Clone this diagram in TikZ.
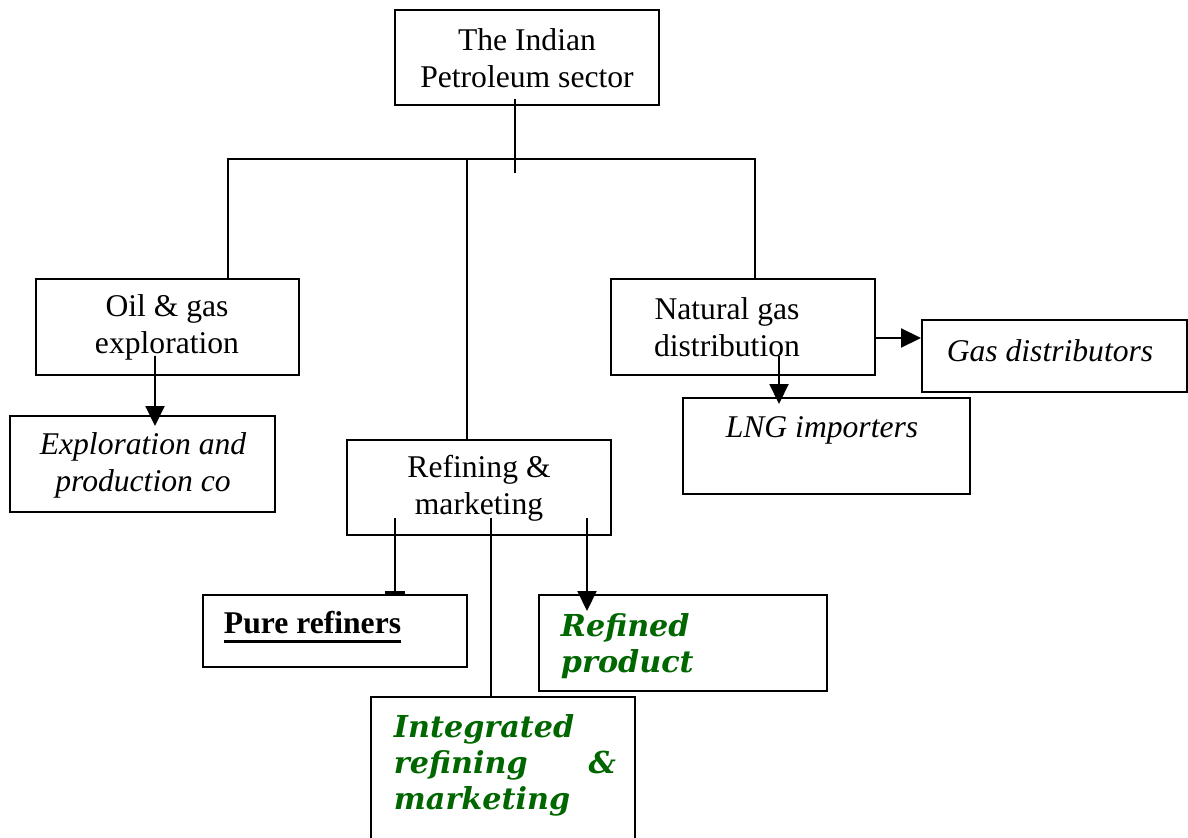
\documentclass[tikz,border=0pt]{standalone}
\usepackage{fontspec}
\setmainfont{Liberation Serif}
\newfontfamily\bookfont{DejaVu Serif}
\usetikzlibrary{arrows.meta,calc}
\definecolor{dkgreen}{RGB}{0,102,0}
\newcommand\thickul[1]{\leavevmode\setbox0\hbox{#1}\rlap{\copy0}\rule[-5pt]{\wd0}{1.6pt}}
\begin{document}
\begin{tikzpicture}[x=0.02cm,y=-0.02cm,
  line width=1.1pt,
  bx/.style 2 args={draw, line width=1.1pt, rectangle, inner sep=0pt,
     minimum width=#1*0.02cm, minimum height=#2*0.02cm},
  txt/.style={inner sep=0pt, align=center, font=\fontsize{18}{21}\selectfont},
  itxt/.style={txt, font=\fontsize{18}{21}\selectfont\itshape},
  gtxt/.style={inner sep=0pt, text=dkgreen,
     font=\fontsize{17.2}{20.5}\selectfont\bookfont\bfseries\itshape},
  arr/.style={-{Triangle[width=0.38cm,length=0.4cm]}},
  barend/.style={-{Rectangle[width=0.4cm,length=0.07cm]}}
]
\useasboundingbox (0,0) rectangle (1188,838);
\clip (0,0) rectangle (1188,838);

% boxes
\node[bx={264}{95}] (top) at (527,57.5) {};
\node[bx={263}{96}] (oil) at (167.5,327) {};
\node[bx={265}{96}] (expl) at (142.5,464) {};
\node[bx={264}{95}] (refin) at (479,487.5) {};
\node[bx={264}{96}] (nat) at (743,327) {};
\node[bx={265}{72}] (gasd) at (1054.5,356) {};
\node[bx={287}{96}] (lng) at (826.5,446) {};
\node[bx={264}{72}] (pure) at (335,631) {};
\node[bx={288}{96}] (refprod) at (683,643) {};
\node[bx={264}{170}] (integ) at (503,782) {};

% texts
\node[txt] (ttop) at (527,58.5) {The Indian\\Petroleum sector};
\node[txt] (toil) at (167,327.5) {Oil \& gas\\exploration};
\node[itxt] (texpl) at (143,465.5) {Exploration and\\production co};
\node[txt] (tnat) at (727,327.5) {Natural gas\\distribution};
\node[txt] (trefin) at (479,488) {Refining \&\\marketing};
\node[itxt] (tgasd) at (1050,351) {Gas distributors};
\node[itxt] (tlng) at (822,430) {LNG importers};
\node[txt, anchor=west, font=\fontsize{18}{21}\selectfont\bfseries] (tpure) at (223,627) {\thickul{Pure refiners}};
\node[gtxt, anchor=west, align=left] (tref) at (560,646) {Refined\\product};
\node[gtxt, anchor=north west, align=left, text width=222*0.02cm] (tinteg) at (393,714)
  {Integrated\\refining\hfill\&\\marketing};

% tree connectors
\coordinate (jl) at (228,159);
\coordinate (jm) at (467,159);
\coordinate (jr) at (755,159);
\draw ($(top.south)+(-12,-7)$) -- ++(0,74);
\draw (oil.north -| jl) -- (jl) -- (jr) -- (nat.north -| jr);
\draw (jm) -- (refin.north -| jm);

% arrows
\draw[arr] ($(oil.south)+(-12.5,-20)$) -- ($(expl.north)+(12.5,11)$);
\draw[arr] ($(nat.east)+(0,11)$) -- ($(gasd.west)+(0,-18)$);
\draw[arr] ($(nat.south)+(36,-20)$) -- ($(lng.north)+(-47.5,7)$);
\draw[barend] ($(refin.south)+(-84,-18)$) -- ($(pure.north)+(60,0)$);
\draw ($(refin.south)+(12,-18)$) -- ($(integ.north)+(-12,0)$);
\draw[arr] ($(refin.south)+(108,-18)$) -- ($(refprod.north)+(-96,17)$);
\end{tikzpicture}
\end{document}
